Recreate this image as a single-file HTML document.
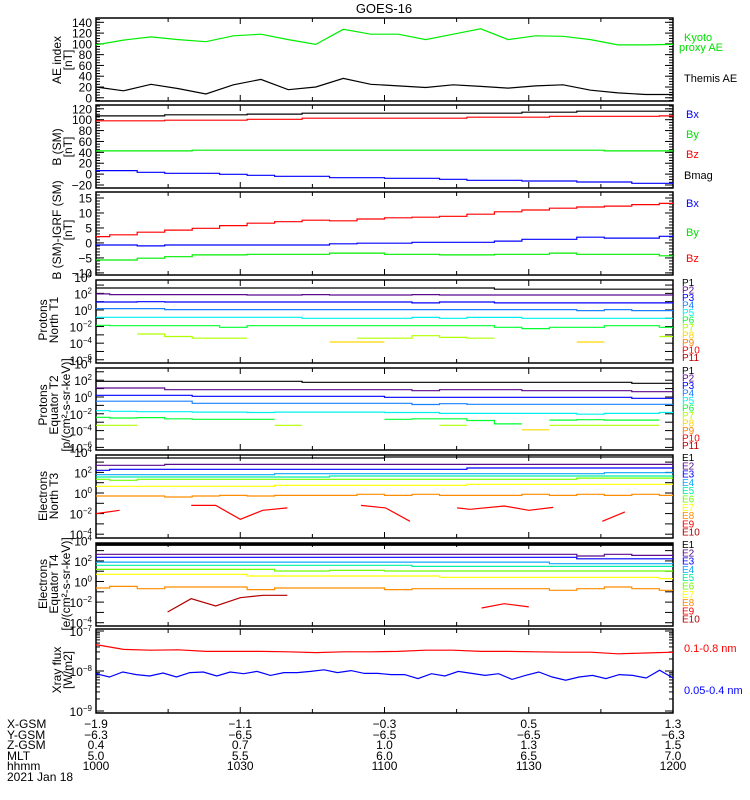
<!DOCTYPE html>
<html><head><meta charset="utf-8"><style>
html,body{margin:0;padding:0;background:#fff}
svg{display:block;font-family:"Liberation Sans",sans-serif}
</style></head><body>
<svg id="chart" width="750" height="800" viewBox="0 0 750 800" xmlns="http://www.w3.org/2000/svg">
<rect width="750" height="800" fill="#fff"/>
<text x="384" y="13" text-anchor="middle" font-size="13">GOES-16</text>
<g font-size="12">
<text transform="translate(61,60) rotate(-90)" text-anchor="middle">AE index</text>
<text transform="translate(72,60) rotate(-90)" text-anchor="middle">[nT]</text>
<text transform="translate(61,147) rotate(-90)" text-anchor="middle">B (SM)</text>
<text transform="translate(72,147) rotate(-90)" text-anchor="middle">[nT]</text>
<text transform="translate(61,230) rotate(-90)" text-anchor="middle">B (SM)-IGRF (SM)</text>
<text transform="translate(72,230) rotate(-90)" text-anchor="middle">[nT]</text>
<text transform="translate(47,320) rotate(-90)" text-anchor="middle">Protons</text>
<text transform="translate(58,320) rotate(-90)" text-anchor="middle">North T1</text>
<text transform="translate(47,405) rotate(-90)" text-anchor="middle">Protons</text>
<text transform="translate(58,405) rotate(-90)" text-anchor="middle">Equator T2</text>
<text transform="translate(70,405) rotate(-90)" text-anchor="middle">[p/(cm²-s-sr-keV)]</text>
<text transform="translate(47,496) rotate(-90)" text-anchor="middle">Electrons</text>
<text transform="translate(58,496) rotate(-90)" text-anchor="middle">North T3</text>
<text transform="translate(47,584) rotate(-90)" text-anchor="middle">Electrons</text>
<text transform="translate(58,584) rotate(-90)" text-anchor="middle">Equator T4</text>
<text transform="translate(70,584) rotate(-90)" text-anchor="middle">[e/(cm²-s-sr-keV)]</text>
<text transform="translate(61,670) rotate(-90)" text-anchor="middle">Xray flux</text>
<text transform="translate(72,670) rotate(-90)" text-anchor="middle">[W/m2]</text>
</g>
<g font-size="11">
<text x="684" y="41" fill="#00e000">Kyoto</text>
<text x="679" y="51" fill="#00e000">proxy AE</text>
<text x="684" y="82" fill="#000">Themis AE</text>
<text x="686" y="118" fill="#0000ff">Bx</text>
<text x="686" y="138" fill="#00e000">By</text>
<text x="686" y="158" fill="#ff0000">Bz</text>
<text x="684" y="179" fill="#000">Bmag</text>
<text x="686" y="207" fill="#0000ff">Bx</text>
<text x="686" y="236" fill="#00e000">By</text>
<text x="686" y="262" fill="#ff0000">Bz</text>
<text x="684" y="652" fill="#ff0000">0.1-0.8 nm</text>
<text x="684" y="694" fill="#0000ff">0.05-0.4 nm</text>
</g>
<g font-size="12">
<text x="7" y="728">X-GSM</text>
<text x="7" y="739">Y-GSM</text>
<text x="7" y="749">Z-GSM</text>
<text x="7" y="760">MLT</text>
<text x="7" y="770">hhmm</text>
<text x="7" y="781">2021 Jan 18</text>
</g>
</svg>
<script>
// ---------- data ----------
const tableCols = [0, 30, 60, 90, 120];
const xgsm = ["-1.9","-1.1","-0.3","0.5","1.3"];
const ygsm = ["-6.3","-6.5","-6.5","-6.5","-6.3"];
const zgsm = ["0.4","0.7","1.0","1.3","1.5"];
const mlt = ["5.0","5.5","6.0","6.5","7.0"];
const hhmm = ["1000","1030","1100","1130","1200"];

const aeKyoto = [98,107,113,108,104,115,118,108,99,127,118,118,108,118,128,108,115,114,108,98,98,99];
const aeThemis = [20,13,25,17,7,24,34,15,20,36,25,22,19,24,21,18,22,24,14,9,6,6];
const aeTicks = [0,20,40,60,80,100,120,140];

const bsmMag = [107,107,107,109,109,109,110.3,110.3,112,112,112,112,112,112,112,112,113.8,113.8,115.7,115.7,115.7,115.7];
const bsmBz = [98,98,98,99,99,99,100.8,100.8,102.7,102.7,102.7,102.7,102.7,102.7,104.5,104.5,104.5,106.3,106.3,106.3,106.3,107];
const bsmBy = [42.7,42.7,42.7,42.7,43.9,43.9,43.9,43.9,43.9,43.9,43.9,43.9,43.9,43.9,43.9,43.9,43.9,43.9,43.9,42.7,42.7,42.7];
const bsmBx = [6.4,6.4,3.4,1.5,1.5,-0.3,-2.1,-4,-4,-6.5,-6.5,-7.7,-7.7,-9.5,-11.4,-11.4,-12.6,-12.6,-14.4,-14.4,-16.9,-16.9];
const bsmTicks = [-20,0,20,40,60,80,100,120];

const igrfBz = [2.1,2.7,3.6,4.3,4.9,5.8,6.6,7.1,7.6,7.4,8,8.4,8.6,8.9,9.6,10.4,11,11.6,12,12.3,12.8,13.2];
const igrfBx = [-0.7,-0.7,-1,-0.7,-0.7,-0.7,-0.7,-0.7,-0.7,-0.3,-0.1,-0.1,0.2,0.2,0.2,0.6,1.2,1.2,1.9,1.6,1.6,2.2];
const igrfBy = [-5.7,-5.7,-5.1,-4.6,-4,-4,-3.8,-3.8,-3.8,-3.4,-3.4,-3.8,-3.8,-4,-4,-3.8,-3.8,-3.4,-3.8,-3.8,-3.8,-4.3];
const igrfTicks = [-10,-5,0,5,10,15];

const pnP1 = [2.65,2.65,2.65,2.65,2.65,2.65,2.65,2.65,2.65,2.65,2.65,2.65,2.65,2.65,2.65,2.5,2.5,2.5,2.5,2.5,2.5,2.5];
const pnP2 = [1.93,1.85,1.85,1.85,1.85,1.85,1.8,1.8,1.85,1.8,1.8,1.8,1.85,1.8,1.8,1.8,1.8,1.8,1.8,1.8,1.8,1.8];
const pnP3 = [0.96,0.96,1.0,0.96,0.96,0.96,0.96,0.96,0.96,0.96,0.96,0.96,0.85,0.96,0.96,0.85,0.85,0.85,0.85,0.85,0.85,0.85];
const pnP4 = [0.16,0.16,0.16,0.04,0.04,0.04,0.04,0.04,0.04,0.04,0.04,0.04,0.04,0.04,0.04,0.04,0.04,0.04,-0.08,0.04,-0.08,-0.08];
const pnP5 = [-0.88,-0.88,-0.88,-0.88,-0.88,-0.88,-0.88,-0.88,-1.0,-1.0,-1.0,-1.0,-0.9,-1.0,-0.9,-0.9,-1.0,-1.0,-1.0,-1.0,-1.0,-1.0];
const pnP6 = [-1.85,-1.9,-1.9,-1.9,-1.9,-2.09,-1.9,-1.9,-1.9,-1.9,-1.9,-1.9,-1.9,-1.9,-1.9,-2.09,-2.25,-2.09,-2.09,-1.9,-1.9,-2.09];
const pnP7 = [null,null,-2.9,-3.2,-3.4,-3.4,null,null,null,null,-3.4,-3.4,-3.1,-3.3,-3.4,null,null,null,null,null,null,-3.2];
const pnP8 = [null,null,null,null,null,null,null,null,null,-3.86,-3.86,null,null,null,null,null,null,null,-3.86,null,null,null];
const pnTicks = [4,2,0,-2,-4,-6];

const peP1 = [1.87,1.87,1.87,1.87,1.87,1.87,1.87,1.87,1.75,1.75,1.75,1.75,1.75,1.75,1.75,1.75,1.75,1.75,1.75,1.75,1.63,1.63];
const peP2 = [1.07,1.07,1.07,0.87,0.87,0.87,0.87,0.87,0.87,0.87,0.87,0.87,0.75,0.87,0.87,0.87,0.75,0.75,0.75,0.75,0.63,0.63];
const peP3 = [0.2,0.2,0.2,0.2,0.08,0.08,0.08,0.08,0.08,0.08,0.08,-0.04,-0.04,-0.04,-0.04,-0.04,-0.04,-0.04,-0.04,-0.04,-0.16,-0.16];
const peP4 = [-0.5,-0.5,-0.5,-0.5,-0.75,-0.75,-0.75,-0.75,-0.75,-0.75,-0.75,-0.75,-0.9,-0.8,-0.87,-0.87,-0.87,-0.87,-0.87,-0.87,-0.87,-0.87];
const peP5 = [-1.63,-1.7,-1.75,-1.75,-1.8,-1.8,-1.85,-1.8,-1.8,-1.8,-1.8,-1.85,-1.85,-1.95,-1.95,-1.95,-1.95,-1.95,-2.05,-1.95,-1.95,-1.85];
const peP6 = [-2.42,-2.5,-2.45,-2.6,-2.65,-2.65,-2.65,null,null,null,null,-2.65,-2.6,-2.6,-2.8,-3.2,null,-2.75,-2.7,-2.75,-2.75,null];
const peP7 = [-3.37,-3.37,null,null,null,null,null,-3.37,null,null,null,null,null,-3.37,null,null,null,-3.37,-3.37,-3.37,-3.37,null];
const peP8 = [null,null,null,null,null,null,null,null,null,null,null,null,null,null,null,null,-3.9,null,null,null,null,null];
const peTicks = [4,2,0,-2,-4,-6];

const enE1 = [3.4,3.4,3.4,3.4,3.4,3.4,3.4,3.4,3.4,3.4,3.4,3.5,3.5,3.5,3.5,3.5,3.5,3.5,3.5,3.5,3.5,3.5];
const enE2 = [2.69,2.69,2.69,2.78,2.78,2.78,2.78,2.78,2.78,2.78,2.78,2.78,2.78,2.78,2.78,2.78,2.78,2.78,2.78,2.78,2.78,2.78];
const enE3 = [2.2,2.3,2.3,2.3,2.3,2.3,2.3,2.3,2.3,2.3,2.3,2.3,2.3,2.3,2.43,2.43,2.43,2.43,2.43,2.43,2.43,2.43];
const enE4 = [1.78,1.78,1.78,1.78,1.78,1.78,1.78,1.87,1.87,1.87,1.87,1.87,1.87,1.87,1.87,1.87,1.87,1.87,1.87,1.97,1.97,1.97];
const enE5 = [1.55,1.55,1.55,1.55,1.55,1.55,1.55,1.55,1.55,1.65,1.65,1.65,1.65,1.65,1.65,1.65,1.65,1.65,1.65,1.65,1.65,1.65];
const enE6 = [1.33,1.23,1.33,1.33,1.33,1.33,1.33,1.33,1.33,1.33,1.33,1.33,1.33,1.33,1.33,1.33,1.33,1.33,1.45,1.45,1.45,1.45];
const enE7 = [0.65,0.65,0.65,0.65,0.65,0.65,0.65,0.75,0.75,0.75,0.75,0.75,0.75,0.75,0.84,0.84,0.84,0.84,0.84,0.84,0.84,0.84];
const enE8 = [-0.29,-0.29,-0.29,-0.39,-0.29,-0.23,-0.29,-0.23,-0.23,-0.23,-0.13,-0.23,-0.13,-0.23,-0.23,-0.23,-0.13,-0.23,-0.13,-0.23,-0.13,-0.23];
const enE9Times = [0,4.9,null,19.8,24.9,30,34.7,39.8,null,55.1,60.2,65.3,null,75.1,77.8,84.9,90,95.1,null,105.3,110];
const enE9Vals = [-2.0,-1.68,null,-1.2,-1.2,-2.55,-1.68,-1.45,null,-1.2,-1.45,-2.75,null,-1.45,-1.58,-1.26,-1.68,-1.4,null,-2.75,-1.84];
const enTicks = [4,2,0,-2,-4];

const eeE1 = [3.6,3.6,3.6,3.6,3.6,3.6,3.6,3.6,3.6,3.6,3.6,3.6,3.6,3.6,3.6,3.6,3.6,3.6,3.6,3.6,3.6,3.6];
const eeE2 = [2.64,2.64,2.64,2.64,2.64,2.64,2.64,2.64,2.64,2.64,2.64,2.64,2.64,2.64,2.64,2.64,2.64,2.64,2.48,2.64,2.54,2.54];
const eeE3 = [2.35,2.35,2.35,2.35,2.35,2.35,2.35,2.35,2.35,2.35,2.35,2.35,2.35,2.35,2.35,2.35,2.35,2.35,2.21,2.21,2.21,2.21];
const eeE4 = [1.89,1.89,1.89,1.89,1.89,1.89,1.89,1.89,1.89,1.89,1.89,1.89,1.89,1.89,1.89,1.89,1.89,1.73,1.73,1.73,1.73,1.73];
const eeE5 = [1.57,1.57,1.57,1.57,1.57,1.57,1.57,1.57,1.57,1.57,1.57,1.57,1.47,1.47,1.47,1.47,1.47,1.47,1.47,1.47,1.47,1.47];
const eeE6 = [1.18,1.18,1.18,1.18,1.18,1.18,1.18,1.02,1.02,1.08,1.08,1.02,1.02,1.02,1.02,1.02,1.02,1.02,1.02,1.02,1.02,1.02];
const eeE7 = [0.7,0.7,0.7,0.7,0.7,0.7,0.54,0.54,0.54,0.54,0.54,0.54,0.54,0.41,0.41,0.41,0.41,0.41,0.41,0.41,0.41,0.28];
const eeE8 = [-0.63,-0.47,-0.7,-0.53,-0.53,-0.53,-0.79,-0.63,-0.63,-0.63,-0.63,-0.79,-0.7,-0.7,-0.7,-0.7,-0.7,-0.85,-0.7,-0.53,-0.7,-0.85];
const eeE10Times = [14.9,19.8,24.9,30,34.7,39.8];
const eeE10Vals = [-2.96,-1.67,-2.38,-1.57,-1.34,-1.34];
const eeE9Times = [80.2,84.9,90];
const eeE9Vals = [-2.57,-2.15,-2.47];
const eeTicks = [4,2,0,-2,-4];

const xrLong = [-7.34,-7.46,-7.48,-7.47,-7.51,-7.51,-7.51,-7.52,-7.54,-7.52,-7.52,-7.51,-7.48,-7.48,-7.51,-7.51,-7.52,-7.53,-7.53,-7.57,-7.55,-7.53];
const xrShort = [-8.067,-8.15,-8.025,-8.09,-8.125,-8.05,-8.15,-8.04,-8.025,-8.125,-8.025,-8.067,-8.01,-8.11,-8.04,-8.04,-8.01,-7.97,-8.04,-7.99,-8.06,-8.06,-8.09,-8.09,-8.19,-8.067,-8.125,-8.01,-8.06,-8.11,-8.067,-8.21,-8.11,-8.025,-8.15,-8.23,-8.15,-8.11,-8.19,-8.09,-8.11,-8.175,-7.98,-8.175];
const xrTicks = [-7,-8,-9];

const protonNames = ["P1","P2","P3","P4","P5","P6","P7","P8","P9","P10","P11"];
const electronNames = ["E1","E2","E3","E4","E5","E6","E7","E8","E9","E10"];

// ---------- helpers ----------
const NS = "http://www.w3.org/2000/svg";
const svg = document.getElementById('chart');
const X0 = 96, X1 = 673, TMAX = 120;
function xScale(t){ return X0 + t * (X1 - X0) / TMAX; }
function linScale(d0, d1, p0, p1){ return v => p0 + (v - d0) * (p1 - p0) / (d1 - d0); }
function mk(tag, attrs, name, parent){
  const el = document.createElementNS(NS, tag);
  for (const k in attrs) el.setAttribute(k, attrs[k]);
  
  
  (parent || svg).appendChild(el);
  return el;
}
const PCOL = ["#000000","#5a0a8c","#0000ff","#1a80ff","#00f0f0","#00ff30","#b0ff00","#ffd800","#ff8000","#ff0000","#b00000"];
const ECOL = ["#000000","#5a0a8c","#0000ff","#10a8ff","#00f0a8","#70ff00","#ffff00","#ff8c00","#ff0000","#b00000"];

function stepPath(vals, ys){
  const n = vals.length, w = TMAX / (n - 1);
  let d = "", prev = null;
  for (let i = 0; i < n; i++){
    const v = vals[i];
    if (v === null){ prev = null; continue; }
    const a = Math.max(0, i*w - w/2), b = Math.min(TMAX, i*w + w/2);
    if (prev === null) d += "M" + xScale(a).toFixed(1) + "," + ys(v).toFixed(1);
    else d += "V" + ys(v).toFixed(1);
    d += "H" + xScale(b).toFixed(1);
    prev = v;
  }
  return d;
}
function linePath(vals, ys){
  const n = vals.length; let d = "";
  for (let i = 0; i < n; i++){
    d += (i ? "L" : "M") + xScale(i*TMAX/(n-1)).toFixed(1) + "," + ys(vals[i]).toFixed(1);
  }
  return d;
}
function xyPath(times, vals, ys){
  let d = "", pen = false;
  for (let i = 0; i < times.length; i++){
    if (times[i] === null || vals[i] === null){ pen = false; continue; }
    d += (pen ? "L" : "M") + xScale(times[i]).toFixed(1) + "," + ys(vals[i]).toFixed(1);
    pen = true;
  }
  return d;
}

function frame(name, top, bot){
  const g = mk('g', {}, name + '-axes');
  mk('rect', {x:X0, y:top, width:X1-X0, height:bot-top, fill:'none', stroke:'#000', 'stroke-width':1.5}, name + '-frame', g);
  for (let t = 0; t <= TMAX; t += 15){
    const L = (t % 30 === 0) ? 6 : 4, x = xScale(t);
    mk('line', {x1:x, y1:top, x2:x, y2:top+L, stroke:'#000'}, name + '-x-tick', g);
    mk('line', {x1:x, y1:bot, x2:x, y2:bot-L, stroke:'#000'}, name + '-x-tick', g);
  }
  return g;
}
function yTick(g, name, y, L){
  mk('line', {x1:X0, y1:y, x2:X0+L, y2:y, stroke:'#000'}, name + '-y-tick', g);
  mk('line', {x1:X1, y1:y, x2:X1-L, y2:y, stroke:'#000'}, name + '-y-tick', g);
}
function linAxis(name, top, bot, ys, dom, ticks, minor){
  const g = frame(name, top, bot);
  for (let v = Math.ceil(dom[0]/minor)*minor; v <= dom[1]; v += minor){
    const y = ys(v); if (y < top || y > bot) continue;
    yTick(g, name, y, 4);
  }
  ticks.forEach(v => {
    const y = ys(v);
    yTick(g, name, y, 8);
    const t = mk('text', {x:92, y:y+4.5, 'text-anchor':'end', 'font-size':12}, name + '-y-label', g);
    t.textContent = String(v).replace('-', '\u2212');
  });
}
function logAxis(name, top, bot, ys, dom, ticks, minorDecades){
  const g = frame(name, top, bot);
  for (let e = Math.ceil(dom[0]); e <= dom[1]; e++){
    const y = ys(e); if (y >= top && y <= bot) yTick(g, name, y, 8);
    if (minorDecades){
      for (let m = 2; m < 10; m++){
        const y2 = ys(e + Math.log10(m));
        if (y2 >= top && y2 <= bot) yTick(g, name, y2, 4);
      }
      const y3 = ys(e - 1 + Math.log10(9)); if (y3 >= top && y3 <= bot) yTick(g, name, y3, 4);
    }
  }
  ticks.forEach(e => {
    const y = ys(e);
    const t = mk('text', {x:92, y:y+5, 'text-anchor':'end', 'font-size':12}, name + '-y-label', g);
    const b = document.createElementNS(NS, 'tspan'); b.textContent = '10';
    
    
    const s = document.createElementNS(NS, 'tspan'); s.textContent = String(e).replace('-', '\u2212');
    s.setAttribute('dy', '-5'); s.setAttribute('font-size', '8');
    
    
    t.appendChild(b); t.appendChild(s);
  });
}
function series(d, color, name, sw){
  mk('path', {d:d, fill:'none', stroke:color, 'stroke-width':sw || 1.2, 'stroke-linejoin':'miter'}, name);
}
function legendList(names, cols, y0, step, prefix){
  names.forEach((n, i) => {
    const t = mk('text', {x:682, y:y0 + i*step, 'font-size':10, fill:cols[i]}, prefix + '-legend-' + n.toLowerCase());
    t.textContent = n;
  });
}

// ---------- panels ----------
const aeY = linScale(-6, 148, 101, 18);
linAxis('ae', 18, 101, aeY, [-6,148], aeTicks, 5);
series(linePath(aeKyoto, aeY), '#00ee00', 'ae-kyoto-line');
series(linePath(aeThemis, aeY), '#000', 'ae-themis-line');

const bY = linScale(-25.5, 127, 188, 105);
linAxis('bsm', 105, 188, bY, [-25.5,127], bsmTicks, 5);
series(stepPath(bsmMag, bY), '#000', 'bsm-bmag-line');
series(stepPath(bsmBz, bY), '#ff0000', 'bsm-bz-line');
series(stepPath(bsmBy, bY), '#00ee00', 'bsm-by-line');
series(stepPath(bsmBx, bY), '#0000ff', 'bsm-bx-line');

const iY = linScale(-10.7, 17, 275, 192);
linAxis('igrf', 192, 275, iY, [-10.7,17], igrfTicks, 1);
series(stepPath(igrfBz, iY), '#ff0000', 'igrf-bz-line');
series(stepPath(igrfBx, iY), '#0000ff', 'igrf-bx-line');
series(stepPath(igrfBy, iY), '#00ee00', 'igrf-by-line');

const pnY = linScale(-6.39, 3.61, 363, 280);
logAxis('pn', 280, 363, pnY, [-6.39,3.61], pnTicks, false);
[pnP1,pnP2,pnP3,pnP4,pnP5,pnP6,pnP7,pnP8].forEach((s,i) => series(stepPath(s, pnY), PCOL[i], 'pn-p' + (i+1) + '-line'));
legendList(protonNames, PCOL, 286, 7.5, 'pn');

const peY = linScale(-6.31, 3.45, 450, 368);
logAxis('pe', 368, 450, peY, [-6.31,3.45], peTicks, false);
[peP1,peP2,peP3,peP4,peP5,peP6,peP7,peP8].forEach((s,i) => series(stepPath(s, peY), PCOL[i], 'pe-p' + (i+1) + '-line'));
legendList(protonNames, PCOL, 374, 7.5, 'pe');

const enY = linScale(-4.37, 3.69, 538, 455);
logAxis('en', 455, 538, enY, [-4.37,3.69], enTicks, false);
[enE1,enE2,enE3,enE4,enE5,enE6,enE7,enE8].forEach((s,i) => series(stepPath(s, enY), ECOL[i], 'en-e' + (i+1) + '-line'));
series(xyPath(enE9Times, enE9Vals, enY), '#ff0000', 'en-e9-line');
legendList(electronNames, ECOL, 461, 8.3, 'en');

const eeY = linScale(-4.32, 3.74, 626, 543);
logAxis('ee', 543, 626, eeY, [-4.32,3.74], eeTicks, false);
series(stepPath(eeE1, eeY), '#000', 'ee-e1-line', 3);
[eeE2,eeE3,eeE4,eeE5,eeE6,eeE7,eeE8].forEach((s,i) => series(stepPath(s, eeY), ECOL[i+1], 'ee-e' + (i+2) + '-line'));
series(xyPath(eeE10Times, eeE10Vals, eeY), '#b00000', 'ee-e10-line');
series(xyPath(eeE9Times, eeE9Vals, eeY), '#ff0000', 'ee-e9-line');
legendList(electronNames, ECOL, 548, 8.3, 'ee');

const xY = linScale(-9.05, -6.95, 713, 629);
logAxis('xray', 629, 713, xY, [-9.05,-6.95], xrTicks, true);
series(linePath(xrLong, xY), '#ff0000', 'xray-long-line');
series(linePath(xrShort, xY), '#0000ff', 'xray-short-line');

const rows = [xgsm, ygsm, zgsm, mlt, hhmm];
const rowY = [728, 739, 749, 760, 770];
rows.forEach((r, ri) => r.forEach((v, ci) => {
  const t = mk('text', {x:xScale(tableCols[ci]), y:rowY[ri], 'text-anchor':'middle', 'font-size':12}, 'table-value');
  t.textContent = v.replace('-', '\u2212');
}));
</script>
</body></html>
